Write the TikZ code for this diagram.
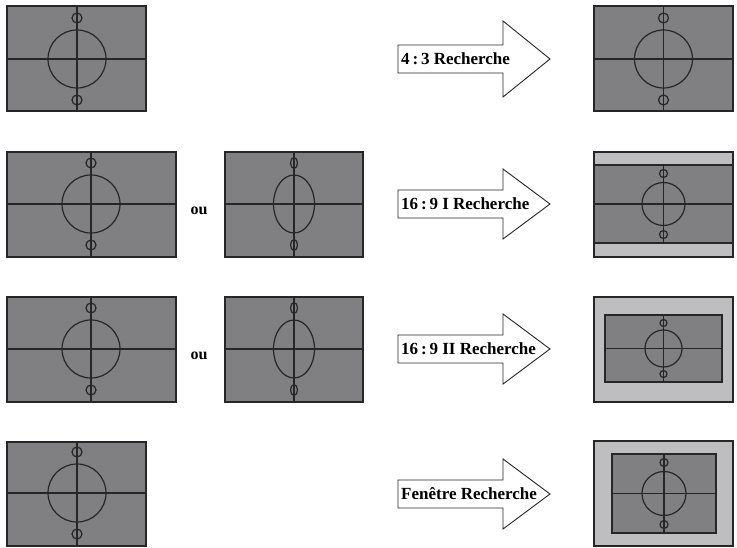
\documentclass[tikz,border=0pt]{standalone}
\usepackage{fontspec}
\setmainfont{Liberation Serif}
\definecolor{screendark}{RGB}{128,128,131}
\definecolor{screenlight}{RGB}{190,190,193}
\tikzset{
  screen/.style={fill=screendark,draw=black!85,line width=1.2pt},
  border/.style={fill=screenlight,draw=black!85,line width=1.2pt},
  guide/.style={draw=black!85,line width=1.2pt},
  arrowshape/.style={fill=white,draw=black!85,line width=0.9pt,line join=miter},
  modetext/.style={font=\bfseries\fontsize{17}{19}\selectfont,anchor=west,inner sep=0pt},
  ortext/.style={font=\bfseries\fontsize{16}{18}\selectfont,inner sep=0pt},
}
% test pattern: centre x, centre y, radii, dot offset, dot radii
\newcommand{\chart}[7]{%
  \draw[guide] (#1,#2) ellipse [x radius=#3,y radius=#4]
    (#1,#2-#5) ellipse [x radius=#6,y radius=#7]
    (#1,#2+#5) ellipse [x radius=#6,y radius=#7];}
% search arrow: centre y, head half height
\newcommand{\searcharrow}[2]{%
  \draw[arrowshape] (398,#1-14) -- (503,#1-14) -- (503,#1-#2) -- (550,#1)
    -- (503,#1+#2) -- (503,#1+14) -- (398,#1+14) -- cycle;}
\begin{document}
\begin{tikzpicture}[x=1pt,y=-1pt]
\useasboundingbox (0,0) rectangle (737,548);

% row 1
\draw[screen] (7,6) rectangle (146,111);
\draw[guide] (7,59) -- (146,59) (77,6) -- (77,111);
\chart{77}{59}{29}{29}{41}{5}{5}
\searcharrow{59}{38}
\node[modetext] (mode43) at (401,59) {4\,:\,3 Recherche};
\draw[screen] (594,6) rectangle (733,111);
\draw[guide] (594,59) -- (733,59) (663.5,6) -- (663.5,111);
\chart{663.5}{59}{29}{29}{41}{5}{5}

% row 2
\draw[screen] (7,152) rectangle (176,257);
\draw[guide] (7,204) -- (176,204) (91,152) -- (91,257);
\chart{91}{204}{29}{29}{41}{5}{5}
\node[ortext] (or1) at (199,211) {ou};
\draw[screen] (225,152) rectangle (363,257);
\draw[guide] (225,204) -- (363,204) (294,152) -- (294,257);
\chart{294}{204}{20.5}{29}{41}{3.5}{5.5}
\searcharrow{204}{35}
\node[modetext] (mode169a) at (401,204) {16\,:\,9 I Recherche};
\draw[border] (594,152) rectangle (733,257);
\draw[screen] (594,165) rectangle (733,243);
\draw[guide] (594,204) -- (733,204) (663.5,165) -- (663.5,243);
\chart{663.5}{204}{21.5}{21.5}{30.5}{4}{4}

% row 3
\draw[screen] (7,297) rectangle (176,402);
\draw[guide] (7,349) -- (176,349) (91,297) -- (91,402);
\chart{91}{349}{29}{29}{41}{5}{5}
\node[ortext] (or2) at (199,356) {ou};
\draw[screen] (225,297) rectangle (363,402);
\draw[guide] (225,349) -- (363,349) (294,297) -- (294,402);
\chart{294}{349}{20.5}{29}{41}{3.5}{5.5}
\searcharrow{349}{35}
\node[modetext] (mode169b) at (401,349) {16\,:\,9 II Recherche};
\draw[border] (594,297) rectangle (733,402);
\draw[screen] (605,315) rectangle (722,382);
\draw[guide] (605,348.5) -- (722,348.5) (663.5,315) -- (663.5,382);
\chart{663.5}{348.5}{18.5}{18.5}{25.5}{3.5}{3.5}

% row 4
\draw[screen] (7,442) rectangle (146,546);
\draw[guide] (7,493) -- (146,493) (77,442) -- (77,546);
\chart{77}{493}{29}{29}{41}{5}{5}
\searcharrow{494}{35}
\node[modetext] (modewin) at (401,494) {Fenêtre Recherche};
\draw[border] (594,441) rectangle (733,546);
\draw[screen] (612,454) rectangle (716,533);
\draw[guide] (612,493.5) -- (716,493.5) (664,454) -- (664,533);
\chart{664}{493.5}{22}{22}{31}{4}{4}
\end{tikzpicture}
\end{document}
